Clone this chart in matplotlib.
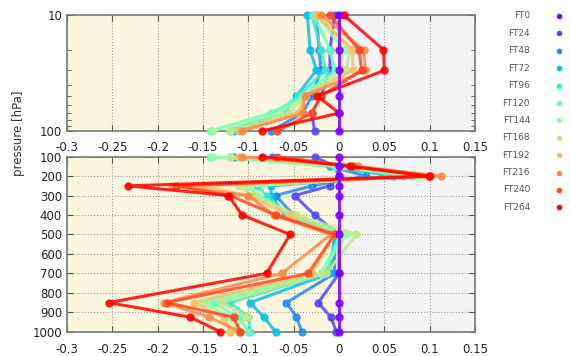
import numpy as np
import matplotlib
matplotlib.use('Agg')
import matplotlib.pyplot as plt
from matplotlib.lines import Line2D
from matplotlib.ticker import NullFormatter, FixedLocator

# forecast times
labels = ['FT0', 'FT24', 'FT48', 'FT72', 'FT96', 'FT120',
          'FT144', 'FT168', 'FT192', 'FT216', 'FT240', 'FT264']

# upper panel: stratosphere levels (hPa)
lev_top = [10, 20, 30, 50, 70, 100]
top = [
    [0.0, 0.0, 0.0, 0.0, 0.0, 0.0],
    [-0.005, -0.010, -0.010, -0.020, -0.030, -0.027],
    [-0.025, -0.022, -0.020, -0.030, -0.040, -0.075],
    [-0.035, -0.032, -0.025, -0.047, -0.060, -0.116],
    [-0.030, -0.020, -0.015, -0.045, -0.070, -0.120],
    [-0.028, -0.010, -0.005, -0.040, -0.075, -0.142],
    [-0.025, 0.005, 0.000, -0.038, -0.065, -0.140],
    [-0.022, 0.012, 0.008, -0.038, -0.055, -0.120],
    [-0.025, 0.015, 0.015, -0.038, -0.045, -0.110],
    [-0.020, 0.027, 0.029, -0.038, -0.040, -0.107],
    [-0.010, 0.022, 0.025, -0.020, -0.030, -0.068],
    [0.005, 0.049, 0.050, -0.024, 0.000, -0.085],
]

# lower panel: troposphere levels (hPa)
lev_bot = [100, 150, 200, 250, 300, 400, 500, 700, 850, 925, 1000]
bot = [
    [0.0, 0.0, 0.0, 0.0, 0.0, 0.0, 0.0, 0.0, 0.0, 0.0, 0.0],
    [-0.027, -0.005, 0.000, -0.010, -0.049, -0.027, 0.000, 0.000, -0.023, -0.009, -0.003],
    [-0.074, -0.010, 0.030, -0.030, -0.070, -0.050, -0.005, -0.005, -0.058, -0.047, -0.041],
    [-0.116, -0.010, 0.060, -0.075, -0.075, -0.060, -0.005, -0.010, -0.098, -0.083, -0.070],
    [-0.120, -0.005, 0.070, -0.090, -0.080, -0.055, 0.000, -0.015, -0.120, -0.100, -0.098],
    [-0.142, -0.005, 0.080, -0.100, -0.090, -0.050, 0.003, -0.020, -0.140, -0.110, -0.100],
    [-0.140, 0.000, 0.085, -0.100, -0.090, -0.050, 0.008, -0.020, -0.150, -0.120, -0.110],
    [-0.120, 0.005, 0.090, -0.110, -0.095, -0.047, 0.019, -0.014, -0.130, -0.100, -0.120],
    [-0.110, 0.010, 0.100, -0.150, -0.100, -0.055, -0.005, -0.030, -0.160, -0.127, -0.120],
    [-0.107, 0.021, 0.112, -0.184, -0.100, -0.072, -0.009, -0.063, -0.193, -0.143, -0.109],
    [-0.068, 0.015, 0.100, -0.180, -0.120, -0.070, -0.005, -0.034, -0.190, -0.116, -0.109],
    [-0.085, 0.012, 0.099, -0.233, -0.122, -0.107, -0.054, -0.080, -0.254, -0.164, -0.131],
]

colors = plt.cm.rainbow(np.linspace(0, 1, len(labels)))

fig = plt.figure(figsize=(5.7, 3.56), dpi=100)
ax1 = fig.add_axes([0.1175, 0.632, 0.716, 0.326])
ax2 = fig.add_axes([0.1175, 0.068, 0.716, 0.492])

xt = np.arange(-0.3, 0.151, 0.05)
xtl = ['-0.3', '-0.25', '-0.2', '-0.15', '-0.1', '-0.05', '0', '0.05', '0.1', '0.15']

for ax in (ax1, ax2):
    ax.axvspan(-0.3, 0, color='#fdf6de', zorder=0)
    ax.axvspan(0, 0.15, color='#f3f3f3', zorder=0)
    ax.set_xlim(-0.3, 0.15)
    ax.set_xticks(xt)
    ax.set_xticklabels(xtl)
    ax.grid(True, axis='x', linestyle=':', color='#999999', linewidth=0.8)
    ax.tick_params(direction='in', top=True, right=True, length=4,
                   labelsize=8.5, colors='#555555', labelcolor='#222222')
    ax.tick_params(which='minor', direction='in', right=True, length=3, colors='#555555')
    for s in ax.spines.values():
        s.set_color('#777777')
        s.set_linewidth(1.2)

for i in range(len(labels)):
    z = 3 if i > 0 else 15
    ax1.plot(top[i], lev_top, color=colors[i], lw=2.2, marker='o', ms=5,
             alpha=0.85, zorder=z, clip_on=False)
    ax2.plot(bot[i], lev_bot, color=colors[i], lw=2.2, marker='o', ms=5,
             alpha=0.85, zorder=z, clip_on=False)

ax1.set_yscale('log')
ax1.set_ylim(100, 10)
ax1.set_yticks([10, 100])
ax1.set_yticklabels(['10', '100'])
ax1.yaxis.set_minor_locator(FixedLocator(np.arange(20, 100, 10)))
ax1.yaxis.set_minor_formatter(NullFormatter())
ax1.tick_params(labelbottom=False)

ax2.set_ylim(1000, 100)
ax2.set_yticks(np.arange(100, 1001, 100))
ax2.grid(True, axis='y', linestyle=':', color='#999999', linewidth=0.8)
ax2.tick_params(axis='x', pad=8)

# x labels above the lower panel sit close to the frame
sec = ax2.secondary_xaxis('top')
sec.set_xticks(xt)
sec.set_xticklabels(xtl)
sec.tick_params(direction='in', length=0, pad=2, labelsize=8.5, labelcolor='#222222')
sec.spines['top'].set_visible(False)

fig.text(0.032, 0.626, 'pressure [hPa]', rotation=90, ha='center', va='center',
         fontsize=8.5, color='#333333')

# legend on the right
for i, lab in enumerate(labels):
    y = 1 - (16 + i * 17.4) / 356
    fig.text(530 / 570, y, lab, ha='right', va='center', fontsize=6.5, color='#555555')
    fig.add_artist(Line2D([559 / 570], [y], marker='o', ms=3, color=colors[i],
                          linestyle='none', transform=fig.transFigure))

fig.savefig('out.png', dpi=100)
